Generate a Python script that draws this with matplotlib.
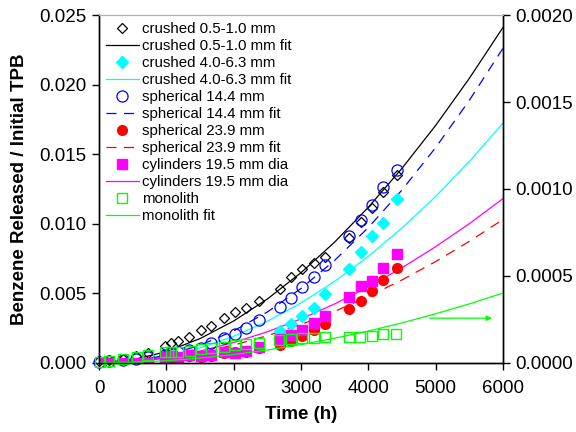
import matplotlib
matplotlib.use("Agg")
import matplotlib.pyplot as plt

plt.rcParams['font.family'] = ['Liberation Sans', 'DejaVu Sans']

# measured release data (time in h)
t_all = [0, 150, 350, 550, 720, 980, 1070, 1180, 1340, 1510, 1670, 1850, 2020,
         2190, 2370, 2690, 2850, 3010, 3190, 3360, 3720, 3890, 4050, 4220, 4420]

crushed_small = [0.0001, 0.0002, 0.0003, 0.0005, 0.0007, 0.00122, 0.00142, 0.0016,
                 0.00189, 0.00235, 0.00268, 0.00321, 0.00365, 0.00393, 0.00448,
                 0.00534, 0.0062, 0.00673, 0.00716, 0.00764, 0.0090, 0.0101,
                 0.0111, 0.0123, 0.0135]

spherical_14 = [0.00005, 0.0001, 0.0002, 0.0003, 0.0004, 0.0006, 0.0007, 0.0008,
                0.0009, 0.0011, 0.0014, 0.0018, 0.0021, 0.0025, 0.0031, 0.0040,
                0.00465, 0.00544, 0.0062, 0.00704, 0.00912, 0.01027, 0.01135,
                0.01262, 0.01387]

t_cyan = [2690, 2850, 3010, 3190, 3360, 3720, 3890, 4050, 4220, 4420]
crushed_large = [0.00232, 0.00278, 0.00338, 0.00397, 0.00496, 0.00676, 0.00794,
                 0.00912, 0.01008, 0.01176]

t_red = [980, 1070, 1180, 1340, 1510, 1670, 1850, 2020, 2190, 2370, 2690, 2850,
         3010, 3190, 3360, 3720, 3890, 4050, 4220, 4420]
spherical_24 = [0.0003, 0.0004, 0.0003, 0.0005, 0.0004, 0.0005, 0.0007, 0.0008,
                0.0008, 0.0011, 0.0013, 0.0016, 0.0019, 0.00237, 0.0028, 0.00386,
                0.00448, 0.0052, 0.00596, 0.00684]

cylinders = [0.00002, 0.00002, 0.00001, 0.00002, 0.00002, 0.0004, 0.0005, 0.0004,
             0.0006, 0.0005, 0.0006, 0.0008, 0.0007, 0.00088, 0.00117, 0.0017,
             0.002, 0.00237, 0.00284, 0.00338, 0.00476, 0.00556, 0.00586, 0.0068,
             0.00786]

# monolith values belong to the right-hand axis
t_mono = [20, 150, 350, 560, 720, 980, 1070, 1180, 1350, 1510, 1670, 1850, 2020,
          2190, 2370, 2680, 2850, 3010, 3190, 3360, 3710, 3880, 4050, 4220, 4410]
monolith = [0.0000075, 0.0000132, 0.000023, 0.0000362, 0.000046, 0.0000615,
            0.0000615, 0.000065, 0.000069, 0.0000787, 0.0000845, 0.0000937,
            0.0001034, 0.0001074, 0.0001166, 0.000132, 0.000138, 0.000142,
            0.000142, 0.000148, 0.000148, 0.000151, 0.000155, 0.000165, 0.000165]

# fitted curves
t_fit = [0, 500, 1000, 1500, 2000, 2500, 3000, 3500, 4000, 4500, 5000, 5500, 6000]
fit_crushed_small = [0.0, 0.000218, 0.00081, 0.001745, 0.00301, 0.00459, 0.00648,
                     0.00868, 0.01118, 0.01398, 0.01706, 0.02044, 0.0241]
fit_crushed_large = [0.0, 0.00012, 0.000478, 0.001076, 0.001913, 0.00299, 0.004305,
                     0.00586, 0.00765, 0.00969, 0.01196, 0.01447, 0.01722]
fit_spherical_14 = [0.0, 0.000129, 0.000544, 0.001265, 0.0023, 0.003657, 0.005345,
                    0.007366, 0.009723, 0.01242, 0.01547, 0.01886, 0.0226]
fit_spherical_24 = [0.0, 0.0000917, 0.000342, 0.00074, 0.001277, 0.001952, 0.00276,
                    0.0037, 0.00477, 0.00596, 0.00728, 0.00873, 0.0103]
fit_cylinders = [0.0, 0.000105, 0.000392, 0.000847, 0.001464, 0.002236, 0.003162,
                 0.004237, 0.00546, 0.00683, 0.00835, 0.0100, 0.0118]
fit_monolith = [0.0, 0.0000033, 0.0000126, 0.0000276, 0.000048, 0.000074, 0.000105,
                0.000142, 0.000183, 0.00023, 0.000282, 0.000339, 0.000401]

fig = plt.figure(figsize=(5.76, 4.32), dpi=100)
ax = fig.add_axes([0.172, 0.160, 0.701, 0.805])
ax2 = ax.twinx()

lw = 0.9
h = []
h += ax.plot(t_fit, fit_crushed_small, '-', color='black', lw=lw, label='crushed 0.5-1.0 mm fit')
h += ax.plot(t_fit, fit_crushed_large, '-', color='#00FFFF', lw=lw, label='crushed 4.0-6.3 mm fit')
h += ax.plot(t_fit, fit_spherical_14, '--', color='#0000FF', lw=lw, dashes=(8, 6),
             label='spherical 14.4 mm fit')
h += ax.plot(t_fit, fit_spherical_24, '--', color='#FF0000', lw=lw, dashes=(8, 6),
             label='spherical 23.9 mm fit')
h += ax.plot(t_fit, fit_cylinders, '-', color='#FF00FF', lw=lw, label='cylinders 19.5 mm dia')

m1, = ax.plot(t_all, crushed_small, 'D', ms=5.5, mfc='none', mec='black', mew=0.9,
              label='crushed 0.5-1.0 mm', clip_on=False)
m2, = ax.plot(t_cyan, crushed_large, 'D', ms=6, color='#00FFFF', mec='#00FFFF',
              label='crushed 4.0-6.3 mm')
m3, = ax.plot(t_all, spherical_14, 'o', ms=8, mfc='none', mec='#0000FF', mew=0.9,
              label='spherical 14.4 mm', clip_on=False)
m4, = ax.plot(t_red, spherical_24, 'o', ms=7, color='#FF0000', label='spherical 23.9 mm')
m5, = ax.plot(t_all, cylinders, 's', ms=6.5, color='#FF00FF', label='cylinders 19.5 mm dia')

f6, = ax2.plot(t_fit, fit_monolith, '-', color='#00FF00', lw=lw, label='monolith fit')
m6, = ax2.plot(t_mono, monolith, 's', ms=7, mfc='none', mec='#00FF00', mew=1.0,
               label='monolith', clip_on=False)
ax2.annotate('', xy=(5880, 0.000257), xytext=(4870, 0.000257),
             arrowprops=dict(arrowstyle='-|>', color='#00FF00', lw=0.9,
                             mutation_scale=8))

ax.set_xlim(0, 6000)
ax.set_ylim(0, 0.025)
ax2.set_ylim(0, 0.0020)
ax.set_xticks(range(0, 6001, 1000))
ax.set_yticks([0.0, 0.005, 0.010, 0.015, 0.020, 0.025])
ax.set_yticklabels(['0.000', '0.005', '0.010', '0.015', '0.020', '0.025'])
ax2.set_yticks([0.0, 0.0005, 0.0010, 0.0015, 0.0020])
ax2.set_yticklabels(['0.0000', '0.0005', '0.0010', '0.0015', '0.0020'])

for a in (ax, ax2):
    a.tick_params(direction='out', length=5, width=1, labelsize=13.5, pad=4)
    a.spines['top'].set_color('#b0b0b0')
    for s in ('left', 'right', 'bottom'):
        a.spines[s].set_linewidth(1)
ax.tick_params(axis='x', pad=7)
ax.set_zorder(ax2.get_zorder() - 1)
ax2.patch.set_visible(False)

ax.set_xlabel('Time (h)', fontsize=13.5, fontweight='bold', labelpad=7)
ax.set_ylabel('Benzene Released / Initial TPB', fontsize=13.5, fontweight='bold',
              labelpad=8)

handles = [m1, h[0], m2, h[1], m3, h[2], m4, h[3], m5, h[4], m6, f6]
ax2.legend(handles=handles, loc='upper left', frameon=False, fontsize=10.8,
           labelspacing=0.2, handlelength=2.2, handletextpad=0.2,
           borderaxespad=0.25, borderpad=0.2, bbox_to_anchor=(0.0, 1.0))

fig.savefig('out.png', dpi=100)
